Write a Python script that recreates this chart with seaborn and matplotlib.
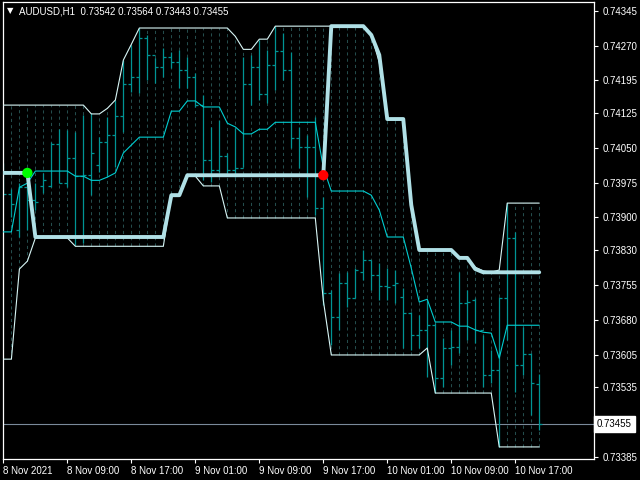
import matplotlib
matplotlib.use("Agg")
import matplotlib.pyplot as plt
import matplotlib.transforms as mtransforms
import numpy as np
import pandas as pd
import seaborn as sns

# ---------------- data (AUDUSD H1, one value per bar) ----------------
bars = list(range(68))

high = [0.74017, 0.73961, 0.73974, 0.73991, 0.73974, 0.73996, 0.74062, 0.74090, 0.74088, 0.74084,
        0.74120, 0.74125, 0.74073, 0.74116, 0.74153, 0.74239, 0.74271, 0.74308, 0.74293, 0.74243,
        0.74265, 0.74256, 0.74260, 0.74245, 0.74211, 0.74164, 0.74095, 0.74110, 0.74039, 0.74092,
        0.74245, 0.74250, 0.74282, 0.74260, 0.74312, 0.74297, 0.74256, 0.74095, 0.74077, 0.74116,
        0.73944, 0.73744, 0.73780, 0.73782, 0.73791, 0.73830, 0.73808, 0.73802, 0.73791, 0.73787,
        0.73748, 0.73696, 0.73690, 0.73722, 0.73673, 0.73640, 0.73658, 0.73782, 0.73744, 0.73726,
        0.73647, 0.73614, 0.73729, 0.73931, 0.73869, 0.73664, 0.73608, 0.73564]
low = [0.73948, 0.73901, 0.73858, 0.73873, 0.73916, 0.73952, 0.73965, 0.73974, 0.73965, 0.73841,
       0.73845, 0.73948, 0.73998, 0.73989, 0.74008, 0.74084, 0.74170, 0.74168, 0.74196, 0.74189,
       0.74202, 0.74222, 0.74179, 0.74179, 0.74138, 0.73980, 0.73976, 0.73998, 0.73996, 0.73987,
       0.74008, 0.74142, 0.74153, 0.74146, 0.74174, 0.74196, 0.74049, 0.74006, 0.73944, 0.73905,
       0.73711, 0.73625, 0.73658, 0.73707, 0.73726, 0.73765, 0.73744, 0.73722, 0.73722, 0.73716,
       0.73619, 0.73614, 0.73619, 0.73556, 0.73522, 0.73535, 0.73582, 0.73608, 0.73636, 0.73630,
       0.73535, 0.73543, 0.73406, 0.73636, 0.73524, 0.73561, 0.73475, 0.73443]
open_ = [0.73980, 0.73950, 0.73873, 0.73965, 0.73937, 0.73968, 0.73968, 0.74058, 0.73974, 0.74028,
         0.73989, 0.73991, 0.74013, 0.74062, 0.74077, 0.74118, 0.74187, 0.74202, 0.74286, 0.74250,
         0.74224, 0.74245, 0.74234, 0.74217, 0.74202, 0.74142, 0.74024, 0.74002, 0.74032, 0.74002,
         0.74006, 0.74187, 0.74224, 0.74166, 0.74228, 0.74258, 0.74217, 0.74071, 0.74051, 0.74051,
         0.73920, 0.73737, 0.73686, 0.73759, 0.73726, 0.73782, 0.73808, 0.73776, 0.73752, 0.73754,
         0.73729, 0.73694, 0.73647, 0.73658, 0.73668, 0.73554, 0.73619, 0.73621, 0.73716, 0.73722,
         0.73658, 0.73561, 0.73571, 0.73726, 0.73856, 0.73582, 0.73606, 0.73542]
close = [0.73950, 0.73929, 0.73965, 0.73937, 0.73933, 0.73980, 0.74058, 0.73974, 0.74028, 0.73989,
         0.73991, 0.74039, 0.74062, 0.74077, 0.74118, 0.74187, 0.74202, 0.74286, 0.74250, 0.74224,
         0.74245, 0.74234, 0.74217, 0.74202, 0.74142, 0.74024, 0.74002, 0.74032, 0.74002, 0.74006,
         0.74187, 0.74224, 0.74166, 0.74228, 0.74258, 0.74217, 0.74071, 0.74051, 0.74051, 0.73920,
         0.73737, 0.73686, 0.73759, 0.73726, 0.73787, 0.73808, 0.73776, 0.73752, 0.73750, 0.73759,
         0.73694, 0.73647, 0.73658, 0.73668, 0.73554, 0.73619, 0.73621, 0.73716, 0.73718, 0.73658,
         0.73561, 0.73571, 0.73726, 0.73856, 0.73582, 0.73606, 0.73543, 0.73455]

upper = [0.74142] * 11 + [0.74123, 0.74123, 0.74135, 0.74153, 0.74239, 0.74273] + [0.74308] * 12 + \
        [0.74290, 0.74262, 0.74262, 0.74284, 0.74284] + [0.74312] * 12 + \
        [0.74293, 0.74234, 0.74112, 0.74112, 0.74112, 0.73927] + [0.73830] * 5 + \
        [0.73813, 0.73813, 0.73793, 0.73785, 0.73782, 0.73787] + [0.73931] * 5
lower = [0.73595, 0.73595, 0.73789, 0.73806] + [0.73856] * 5 + [0.73838] * 12 + \
        [0.73950, 0.73950, 0.73989, 0.73989, 0.73968, 0.73968, 0.73968] + [0.73899] * 12 + \
        [0.73722] + [0.73604] * 12 + [0.73619] + [0.73522] * 8 + [0.73406] * 6
middle = [0.73869, 0.73869, 0.73965, 0.73974] + [0.74000] * 5 + [0.73989, 0.73989, 0.73980, 0.73980,
          0.73987, 0.73996, 0.74039, 0.74056] + [0.74073] * 4 + [0.74129, 0.74129, 0.74151, 0.74151,
          0.74138, 0.74138, 0.74138, 0.74103, 0.74095, 0.74080, 0.74080, 0.74090, 0.74090] + \
         [0.74105] * 6 + [0.74008] + [0.73957] * 5 + [0.73948, 0.73916, 0.73858, 0.73858, 0.73858,
          0.73791, 0.73718, 0.73724, 0.73675, 0.73675, 0.73675, 0.73666, 0.73666, 0.73658, 0.73653,
          0.73651, 0.73597] + [0.73668] * 5
trail = [0.73996] * 4 + [0.73858] * 17 + [0.73948, 0.73948] + [0.73991] * 18 + [0.74312] * 5 + \
        [0.74293, 0.74250, 0.74112, 0.74112, 0.74112, 0.73927] + [0.73830] * 5 + \
        [0.73813, 0.73813, 0.73789] + [0.73782] * 8

buy_bar, buy_price = 3, 0.73996
sell_bar, sell_price = 40, 0.73991
last_price = 0.73455
last_price_label = "0.73455"

x_tick_bars = [0, 8, 16, 24, 32, 40, 48, 56, 64]
x_tick_labels = ["8 Nov 2021", "8 Nov 09:00", "8 Nov 17:00", "9 Nov 01:00", "9 Nov 09:00",
                 "9 Nov 17:00", "10 Nov 01:00", "10 Nov 09:00", "10 Nov 17:00"]
y_tick_values = [0.74345, 0.74270, 0.74195, 0.74125, 0.74050, 0.73975, 0.73900, 0.73830,
                 0.73755, 0.73680, 0.73605, 0.73535, 0.73460, 0.73385]
# the 0.73460 label is hidden behind the current-price box in the reference
y_tick_labels = ["0.74345", "0.74270", "0.74195", "0.74125", "0.74050", "0.73975", "0.73900",
                 "0.73830", "0.73755", "0.73680", "0.73605", "0.73535", "", "0.73385"]
header = "AUDUSD,H1  0.73542 0.73564 0.73443 0.73455"

# ---------------- style ----------------
sns.set_theme(style="dark", rc={
    "axes.facecolor": "black", "figure.facecolor": "black",
    "axes.edgecolor": "white", "axes.grid": False,
    "xtick.color": "white", "ytick.color": "white",
    "text.color": "white",
})
plt.rcParams["font.family"] = ["Liberation Sans", "DejaVu Sans"]

df = pd.DataFrame({"bar": bars, "high": high, "low": low, "open": open_, "close": close,
                   "upper": upper, "middle": middle, "lower": lower, "trail": trail})

fig = plt.figure(figsize=(6.4, 4.8), dpi=100, facecolor="black")
ax = fig.add_axes([3 / 640, 21 / 480, 591 / 640, 457 / 480])
ax.set_facecolor("black")

CANDLE = "#009494"
# channel fill: dashed verticals between the bands
ax.vlines(df["bar"], df["lower"], df["upper"], colors="#244c4c", linestyles=(0, (3, 3)),
          lw=0.75, zorder=1)
# current price line
ax.axhline(last_price, color="#7a8a9a", lw=0.8, zorder=1.5)
# OHLC bars
ax.vlines(df["bar"], df["low"], df["high"], colors=CANDLE, lw=0.9, zorder=2)
ax.hlines(df["open"], df["bar"] - 0.38, df["bar"], colors=CANDLE, lw=0.9, zorder=2)
ax.hlines(df["close"], df["bar"], df["bar"] + 0.38, colors=CANDLE, lw=0.9, zorder=2)

# channel lines
sns.lineplot(data=df, x="bar", y="upper", color="#d8f6f6", lw=0.8, ax=ax, legend=False, zorder=3)
sns.lineplot(data=df, x="bar", y="lower", color="#d8f6f6", lw=0.8, ax=ax, legend=False, zorder=3)
sns.lineplot(data=df, x="bar", y="middle", color="#00ced1", lw=0.8, ax=ax, legend=False, zorder=3)
# trailing line
sns.lineplot(data=df, x="bar", y="trail", color="#b0e0e6", lw=2.8, ax=ax, legend=False, zorder=4)
# signals
sig = pd.DataFrame({"bar": [buy_bar, sell_bar], "price": [buy_price, sell_price],
                    "kind": ["buy", "sell"]})
sns.scatterplot(data=sig, x="bar", y="price", hue="kind",
                palette={"buy": "#00ff00", "sell": "#ff0000"}, s=55, edgecolor="none",
                ax=ax, legend=False, zorder=5)

# ---------------- axes ----------------
ax.set_xlim(-0.05, 73.85)
ax.set_ylim(0.73380, 0.74364)
ax.set_xlabel("")
ax.set_ylabel("")
for sp in ax.spines.values():
    sp.set_color("white")
    sp.set_linewidth(0.9)
    sp.set_visible(True)

ax.yaxis.tick_right()
ax.set_yticks(y_tick_values)
ax.set_yticklabels(y_tick_labels)
ax.set_xticks(x_tick_bars)
ax.set_xticklabels(x_tick_labels, ha="left")
ax.tick_params(axis="y", which="both", right=True, left=False, direction="out", length=3,
               width=0.8, pad=3, labelsize=7, colors="white")
ax.tick_params(axis="x", which="both", bottom=True, direction="out", length=3,
               width=0.8, pad=2, labelsize=7, colors="white")

# price box
trans = mtransforms.blended_transform_factory(ax.transAxes, ax.transData)
ax.text(1.005, last_price, last_price_label, transform=trans, ha="left", va="center", fontsize=7,
        color="black", zorder=10, clip_on=False,
        bbox=dict(boxstyle="square,pad=0.3", facecolor="white", edgecolor="white"))

# header
fig.text(7 / 640, 1 - 11 / 480, "\u25bc", fontsize=6, color="white", va="center", ha="left",
         family=["DejaVu Sans"])
fig.text(19 / 640, 1 - 11 / 480, header, fontsize=7, color="white", va="center", ha="left")

fig.savefig("out.png", dpi=100, facecolor="black")
